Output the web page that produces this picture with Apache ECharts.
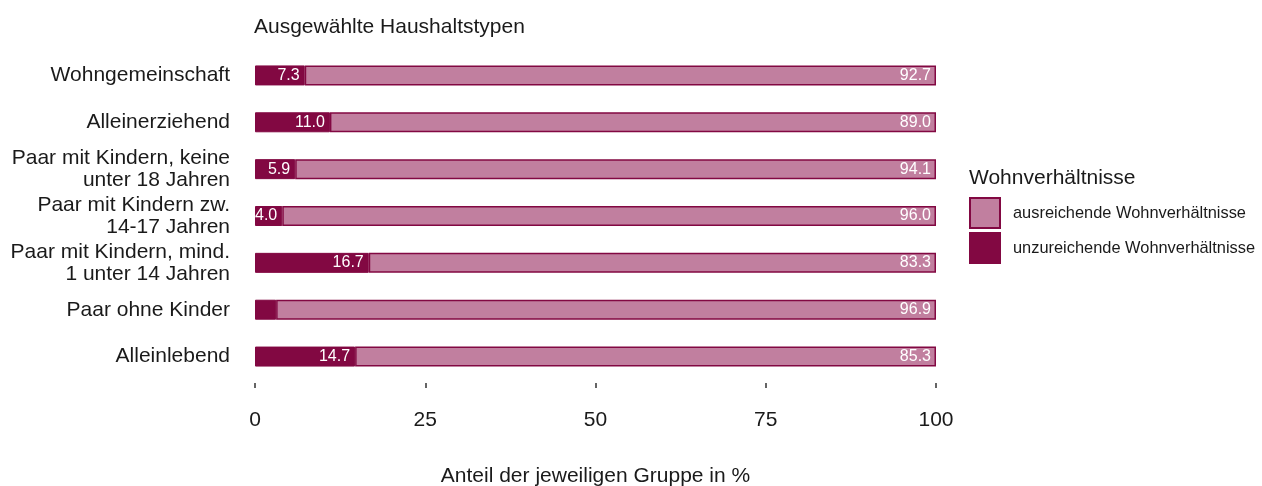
<!DOCTYPE html>
<html>
<head>
<meta charset="utf-8">
<script src="https://cdn.jsdelivr.net/npm/echarts@6/dist/echarts.min.js"></script>
<style>
  html, body { margin: 0; padding: 0; background: #fff; }
  #main { width: 1262px; height: 486px; }
</style>
</head>
<body>
<div id="main"></div>
<script>
const categories = [
  'Wohngemeinschaft',
  'Alleinerziehend',
  'Paar mit Kindern, keine\nunter 18 Jahren',
  'Paar mit Kindern zw.\n14-17 Jahren',
  'Paar mit Kindern, mind.\n1 unter 14 Jahren',
  'Paar ohne Kinder',
  'Alleinlebend'
];
const unzureichend = [7.3, 11.0, 5.9, 4.0, 16.7, 3.1, 14.7];
const ausreichend = [92.7, 89.0, 94.1, 96.0, 83.3, 96.9, 85.3];
const xTicks = [0, 25, 50, 75, 100];

const dark = '#820842';
const light = '#c17f9f';
const font = '"Liberation Sans", Arial, sans-serif';

let myChart = echarts.init(document.getElementById('main'));
myChart.setOption({
  animation: false,
  textStyle: { fontFamily: font },
  title: {
    text: 'Ausgewählte Haushaltstypen',
    left: 249,
    top: 12,
    textStyle: { fontSize: 21, fontWeight: 'normal', color: '#1a1a1a', fontFamily: font }
  },
  graphic: [
    {
      type: 'text',
      left: 969,
      top: 168,
      style: { text: 'Wohnverhältnisse', fontSize: 21, fill: '#1a1a1a', fontFamily: font }
    }
  ],
  legend: {
    orient: 'vertical',
    left: 964,
    top: 192,
    itemWidth: 30,
    itemHeight: 30,
    itemGap: 3,
    icon: 'rect',
    data: ['ausreichende Wohnverhältnisse', 'unzureichende Wohnverhältnisse'],
    textStyle: { fontSize: 16.4, color: '#1a1a1a', fontFamily: font, padding: [0, 0, 0, 8] }
  },
  grid: { left: 255, right: 326, top: 52, bottom: 106, outerBoundsMode: 'none' },
  xAxis: {
    type: 'value',
    min: 0,
    max: 100,
    interval: 25,
    offset: 3,
    axisLine: { show: false },
    axisTick: { show: true, length: 5, lineStyle: { color: '#333', width: 1.5 } },
    splitLine: { show: false },
    axisLabel: {
      margin: 27,
      fontSize: 21,
      color: '#1a1a1a',
      fontFamily: font,
      formatter: (v) => (xTicks.includes(v) ? String(v) : '')
    },
    name: 'Anteil der jeweiligen Gruppe in %',
    nameLocation: 'middle',
    nameGap: 83,
    nameTextStyle: { fontSize: 21, color: '#1a1a1a', fontFamily: font }
  },
  yAxis: {
    type: 'category',
    inverse: true,
    data: categories,
    axisLine: { show: false },
    axisTick: { show: false },
    axisLabel: {
      margin: 25,
      fontSize: 21,
      lineHeight: 22,
      color: '#1a1a1a',
      fontFamily: font,
      align: 'right'
    }
  },
  series: [
    {
      name: 'unzureichende Wohnverhältnisse',
      type: 'bar',
      stack: 'total',
      barWidth: 20,
      itemStyle: { color: dark, borderColor: dark, borderWidth: 1 },
      label: {
        show: true,
        position: 'insideRight',
        color: '#fff',
        fontSize: 16,
        fontFamily: font,
        formatter: (p) => p.value.toFixed(1)
      },
      data: unzureichend.map((v) => (v < 3.5 ? { value: v, label: { show: false } } : v))
    },
    {
      name: 'ausreichende Wohnverhältnisse',
      type: 'bar',
      stack: 'total',
      barWidth: 20,
      itemStyle: { color: light, borderColor: dark, borderWidth: 1.5 },
      label: {
        show: true,
        position: 'insideRight',
        color: '#fff',
        fontSize: 16,
        fontFamily: font,
        formatter: (p) => p.value.toFixed(1)
      },
      data: ausreichend
    }
  ]
});
</script>
</body>
</html>
